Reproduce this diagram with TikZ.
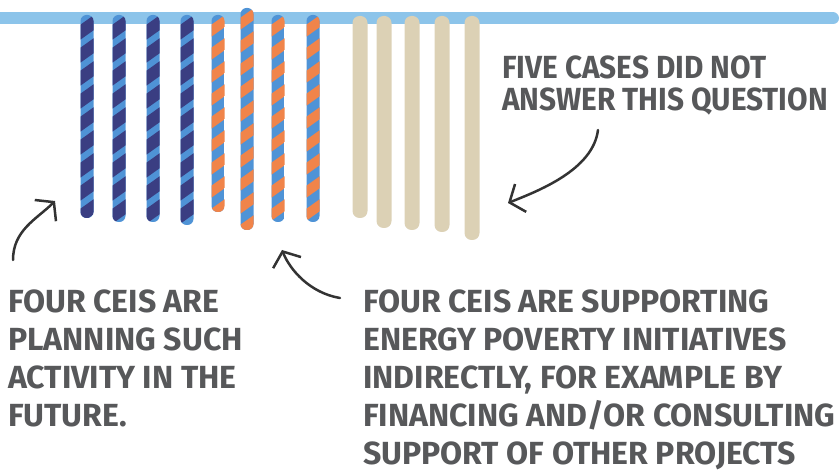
\documentclass[tikz,border=0pt]{standalone}
\usepackage{fontspec}
\newfontfamily\handfont{Fira Sans}
\newfontfamily\handfontnarrow[FakeStretch=0.93]{Fira Sans}
\usetikzlibrary{arrows.meta,positioning}

\definecolor{barblue}{HTML}{8CC4EA}
\definecolor{ribbonblue}{HTML}{4F93D6}
\definecolor{navy}{HTML}{3A3E82}
\definecolor{ribbonorange}{HTML}{F0844A}
\definecolor{beige}{HTML}{DCD1B5}
\definecolor{inkgray}{HTML}{57585A}
\definecolor{arrowink}{HTML}{333333}

% x, top, bottom, base colour, band colour, band height
\newcommand{\ribbon}[6]{%
  \begin{scope}
    \clip[rounded corners=6pt] (#1-6.5,#2) rectangle (#1+6.5,#3);
    \fill[#4] (#1-7,#2-1) rectangle (#1+7,#3+1);
    \foreach \s in {0,23,...,253}
      \fill[#5] (#1-7,#2+\s+10) -- (#1+7,#2+\s) -- (#1+7,#2+\s+#6) -- (#1-7,#2+\s+10+#6) -- cycle;
  \end{scope}}

\begin{document}
\begin{tikzpicture}[x=1pt,y=-1pt,
    labeltext/.style={font=\handfont\bfseries\fontsize{32}{38}\selectfont, text=inkgray, align=left, inner sep=0pt, anchor=north west},
    pointer/.style={draw=arrowink, line width=2.5pt, line cap=round, -{Straight Barb[length=12pt,width=30pt]}}]
  \useasboundingbox (0,0) rectangle (839,473);

  % washing line
  \draw[barblue, line width=12pt, line cap=round] (0,18.5) -- (833,18.5);

  % ribbons
  \foreach \x/\b in {87/218,119/222,153/222,187/225}
    \ribbon{\x}{15}{\b}{ribbonblue}{navy}{15};
  \foreach \x/\t/\b in {218/15/212,247/8/230,278/15/222,313/15/222}
    \ribbon{\x}{\t}{\b}{ribbonblue}{ribbonorange}{12};
  \foreach \x/\b in {360/218,384/228,412/230,442/232,472/240}
    \fill[beige, rounded corners=7pt] (\x-7.5,16) rectangle (\x+7.5,\b);

  % texts
  \node[labeltext, font=\handfontnarrow\bfseries\fontsize{32}{32}\selectfont] (fivecases) at (502,56)
    {FIVE CASES DID NOT\\ANSWER THIS QUESTION};
  \node[labeltext] (planning) at (8,290)
    {FOUR CEIS ARE\\PLANNING SUCH\\ACTIVITY IN THE\\FUTURE.};
  \node[labeltext] (supporting) at (363,290)
    {FOUR CEIS ARE SUPPORTING\\ENERGY POVERTY INITIATIVES\\INDIRECTLY, FOR EXAMPLE BY\\FINANCING AND/OR CONSULTING\\SUPPORT OF OTHER PROJECTS};

  % arrows
  \coordinate (planTail) at (13,260);
  \coordinate (planTip) at (55,201);
  \coordinate (suppTail) at (340,298);
  \coordinate (suppTip) at (282,250);
  \coordinate (fiveTail) at (598,130);
  \coordinate (fiveTip) at (508,203);
  \draw[pointer] (planTail) .. controls +(0,-30) and +(-18,18) .. (planTip);
  \draw[pointer] (suppTail) .. controls +(-30,-5) and +(8,20) .. (suppTip);
  \draw[pointer] (fiveTail) .. controls +(-5,40) and +(30,-12) .. (fiveTip);
\end{tikzpicture}
\end{document}
